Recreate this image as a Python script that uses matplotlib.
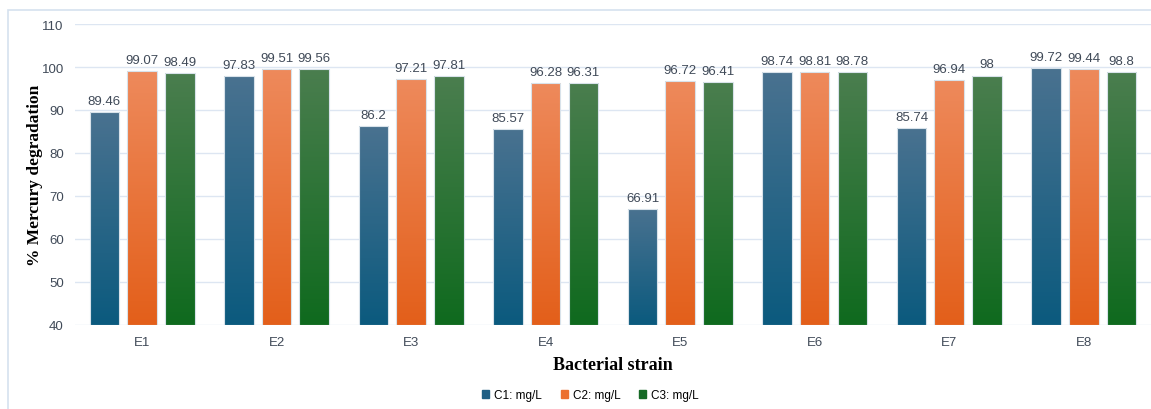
import numpy as np
import matplotlib.pyplot as plt
from matplotlib.colors import LinearSegmentedColormap
from matplotlib.patches import Rectangle, Patch

strains = ["E1", "E2", "E3", "E4", "E5", "E6", "E7", "E8"]
c1 = [89.46, 97.83, 86.2, 85.57, 66.91, 98.74, 85.74, 99.72]
c2 = [99.07, 99.51, 97.21, 96.28, 96.72, 98.81, 96.94, 99.44]
c3 = [98.49, 99.56, 97.81, 96.31, 96.41, 98.78, 98.0, 98.8]
series_names = ["C1: mg/L", "C2: mg/L", "C3: mg/L"]

# (bottom colour, top colour) for each series gradient
grads = [("#0b5a7e", "#4a7290"),
         ("#e35f1a", "#ee8a5c"),
         ("#0f6a1e", "#4b7e4f")]
solid = ["#1f5f84", "#ec6f2e", "#176a26"]

fig = plt.figure(figsize=(11.51, 4.10), dpi=100)
ax = fig.add_axes([0.065, 0.205, 0.935, 0.734])

ymin, ymax = 40, 110
x = np.arange(len(strains))
w = 0.22
step = 0.28
grad = np.linspace(0, 1, 256).reshape(-1, 1)

for i, vals in enumerate([c1, c2, c3]):
    cmap = LinearSegmentedColormap.from_list(f"g{i}", grads[i])
    for xi, v in zip(x, vals):
        left = xi + (i - 1) * step - w / 2
        # gradient fill clipped to the bar outline
        box = Rectangle((left, ymin), w, v - ymin, fill=False,
                        edgecolor="#d8e2ea", lw=0.8, zorder=3)
        ax.add_patch(box)
        img = ax.imshow(grad, extent=[left, left + w, ymin, v + 0.5], origin="lower",
                        aspect="auto", cmap=cmap, zorder=2, interpolation="bilinear")
        img.set_clip_path(box)
        ax.text(xi + (i - 1) * step, v + 1.2, f"{v:g}", ha="center",
                va="bottom", fontsize=9.5, color="#404a58", family="Liberation Sans")

ax.set_xlim(-0.5, len(strains) - 0.5)
ax.set_ylim(ymin, ymax)
ax.set_yticks(range(40, 111, 10))
ax.set_xticks(x)
ax.set_xticklabels(strains)
ax.tick_params(length=0, labelsize=9.5, labelcolor="#404a58", pad=8)
for lab in ax.get_xticklabels() + ax.get_yticklabels():
    lab.set_family("Liberation Sans")
ax.grid(axis="y", color="#dde6f2", lw=1, zorder=0)
ax.set_axisbelow(True)
for s in ax.spines.values():
    s.set_visible(False)

ax.set_ylabel("% Mercury degradation", family="Liberation Serif",
              fontweight="bold", fontsize=12.5, va="center")
ax.yaxis.set_label_coords(-0.037, 0.5)
ax.set_xlabel("Bacterial strain", family="Liberation Serif",
              fontweight="bold", fontsize=13, labelpad=6)

handles = [Patch(color=c) for c in solid]
fig.legend(handles, series_names, loc="center", bbox_to_anchor=(0.513, 0.034),
           ncol=3, frameon=False, handlelength=0.6, handleheight=0.6,
           handletextpad=0.4, columnspacing=1.6,
           prop={"family": "Liberation Sans", "size": 8.5})

# light outer frame
fig.patches.append(Rectangle((0.007, -0.01), 1.0, 0.983, transform=fig.transFigure,
                             fill=False, edgecolor="#d5e1ef", lw=1.2))

fig.savefig("out.png", dpi=100)
